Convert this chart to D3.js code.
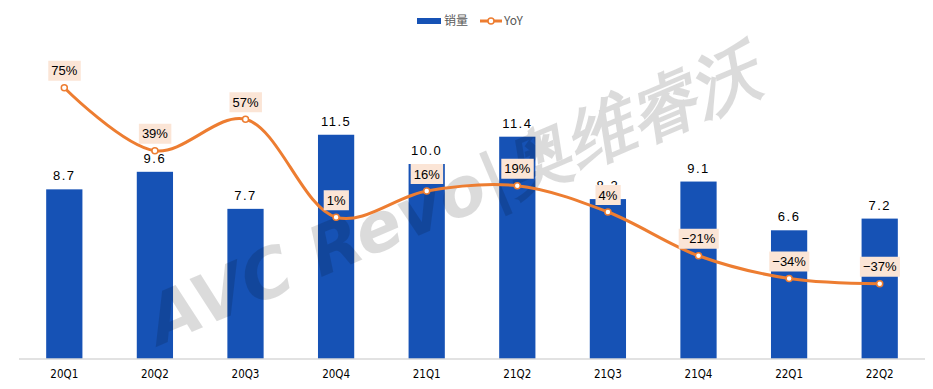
<!DOCTYPE html>
<html>
<head>
<meta charset="utf-8">
<script src="https://cdn.jsdelivr.net/npm/d3@7"></script>
<style>
  body { margin: 0; background: #fff; }
  text { font-family: "Noto Sans CJK SC", "Noto Sans", sans-serif; }
</style>
</head>
<body>
<script>
var quarters = ["20Q1", "20Q2", "20Q3", "20Q4", "21Q1", "21Q2", "21Q3", "21Q4", "22Q1", "22Q2"];
var sales = [8.7, 9.6, 7.7, 11.5, 10.0, 11.4, 8.2, 9.1, 6.6, 7.2];
var yoy = [75, 39, 57, 1, 16, 19, 4, -21, -34, -37];

function init () {
  var w = 933, h = 389;
  var base = 359;

  var svg = d3.select("body").append("svg")
    .attr("width", w)
    .attr("height", h);

  var x = d3.scaleBand()
    .domain(quarters)
    .range([19, 925])
    .paddingInner(0.6)
    .paddingOuter(0.3);

  var y = d3.scaleLinear().domain([0, 14]).range([base, 86]);
  var y2 = d3.scaleLinear().domain([-80, 100]).range([base, 44]);

  // bars
  svg.selectAll("rect.bar")
    .data(sales)
    .enter()
    .append("rect")
    .attr("class", "bar")
    .attr("x", function(d, i) { return x(quarters[i]); })
    .attr("y", function(d) { return y(d); })
    .attr("width", x.bandwidth())
    .attr("height", function(d) { return base - y(d); })
    .attr("fill", "#1652b5");

  // axis
  var axis = svg.append("g")
    .attr("transform", "translate(0," + base + ")")
    .call(d3.axisBottom(x).tickSize(0).tickPadding(11));
  axis.select(".domain").attr("stroke", "#d9d9d9").attr("stroke-width", 1.5)
    .attr("d", "M19,0H925");
  axis.selectAll("text")
    .attr("font-size", 11.5)
    .attr("fill", "#000")
    .style("font-family", "'DejaVu Sans Condensed', sans-serif");

  // bar value labels
  svg.selectAll("text.val")
    .data(sales)
    .enter()
    .append("text")
    .attr("class", "val")
    .attr("x", function(d, i) { return x(quarters[i]) + x.bandwidth() / 2; })
    .attr("y", function(d) { return y(d) - 9; })
    .attr("text-anchor", "middle")
    .attr("font-size", 13)
    .attr("letter-spacing", 1.5)
    .attr("fill", "#000")
    .style("font-family", "'Liberation Sans', sans-serif")
    .text(function(d) { return d.toFixed(1); });

  // watermark
  svg.append("text")
    .attr("transform", "translate(455,200) rotate(-23)")
    .attr("text-anchor", "middle")
    .attr("dominant-baseline", "middle")
    .attr("font-size", 68)
    .attr("font-weight", "bold")
    .attr("font-style", "italic")
    .attr("fill", "#000")
    .attr("fill-opacity", 0.14)
    .style("font-family", "'DejaVu Sans', sans-serif")
    .text("AVC Revo|奥维睿沃");

  // yoy line
  var cx = function(d, i) { return x(quarters[i]) + x.bandwidth() / 2; };
  var line = d3.line()
    .x(cx)
    .y(function(d) { return y2(d); })
    .curve(d3.curveCatmullRom.alpha(0.5));

  svg.append("path")
    .datum(yoy)
    .attr("d", line)
    .attr("fill", "none")
    .attr("stroke", "#ed7d31")
    .attr("stroke-width", 3);

  svg.selectAll("circle.pt")
    .data(yoy)
    .enter()
    .append("circle")
    .attr("class", "pt")
    .attr("cx", cx)
    .attr("cy", function(d) { return y2(d); })
    .attr("r", 3)
    .attr("fill", "#fff")
    .attr("stroke", "#ed7d31")
    .attr("stroke-width", 1.5);

  // yoy labels
  var lab = svg.selectAll("g.yl")
    .data(yoy)
    .enter()
    .append("g")
    .attr("class", "yl")
    .attr("transform", function(d, i) {
      return "translate(" + cx(d, i) + "," + (y2(d) - 17) + ")";
    });

  lab.append("text")
    .attr("text-anchor", "middle")
    .attr("dy", "0.35em")
    .attr("font-size", 13)
    .attr("fill", "#000")
    .style("font-family", "'Liberation Sans', sans-serif")
    .text(function(d) { return (d < 0 ? "\u2212" + (-d) : d) + "%"; });

  lab.each(function() {
    var g = d3.select(this);
    var bb = g.select("text").node().getBBox();
    g.insert("rect", "text")
      .attr("x", bb.x - 3)
      .attr("y", -10)
      .attr("width", bb.width + 6)
      .attr("height", 20)
      .attr("fill", "#fbe5d6");
  });

  // legend
  var leg = svg.append("g").attr("transform", "translate(417,21)");
  leg.append("rect")
    .attr("x", 0).attr("y", -3)
    .attr("width", 24).attr("height", 6)
    .attr("fill", "#1652b5");
  leg.append("text")
    .attr("x", 27).attr("dy", "0.35em")
    .attr("font-size", 12).attr("fill", "#595959")
    .text("销量");
  leg.append("line")
    .attr("x1", 63).attr("x2", 85)
    .attr("stroke", "#ed7d31").attr("stroke-width", 3);
  leg.append("circle")
    .attr("cx", 74).attr("r", 3)
    .attr("fill", "#fff").attr("stroke", "#ed7d31").attr("stroke-width", 1.5);
  leg.append("text")
    .attr("x", 87).attr("dy", "0.35em")
    .attr("font-size", 12).attr("fill", "#595959")
    .text("YoY");
}

window.onload = init;
</script>
</body>
</html>
